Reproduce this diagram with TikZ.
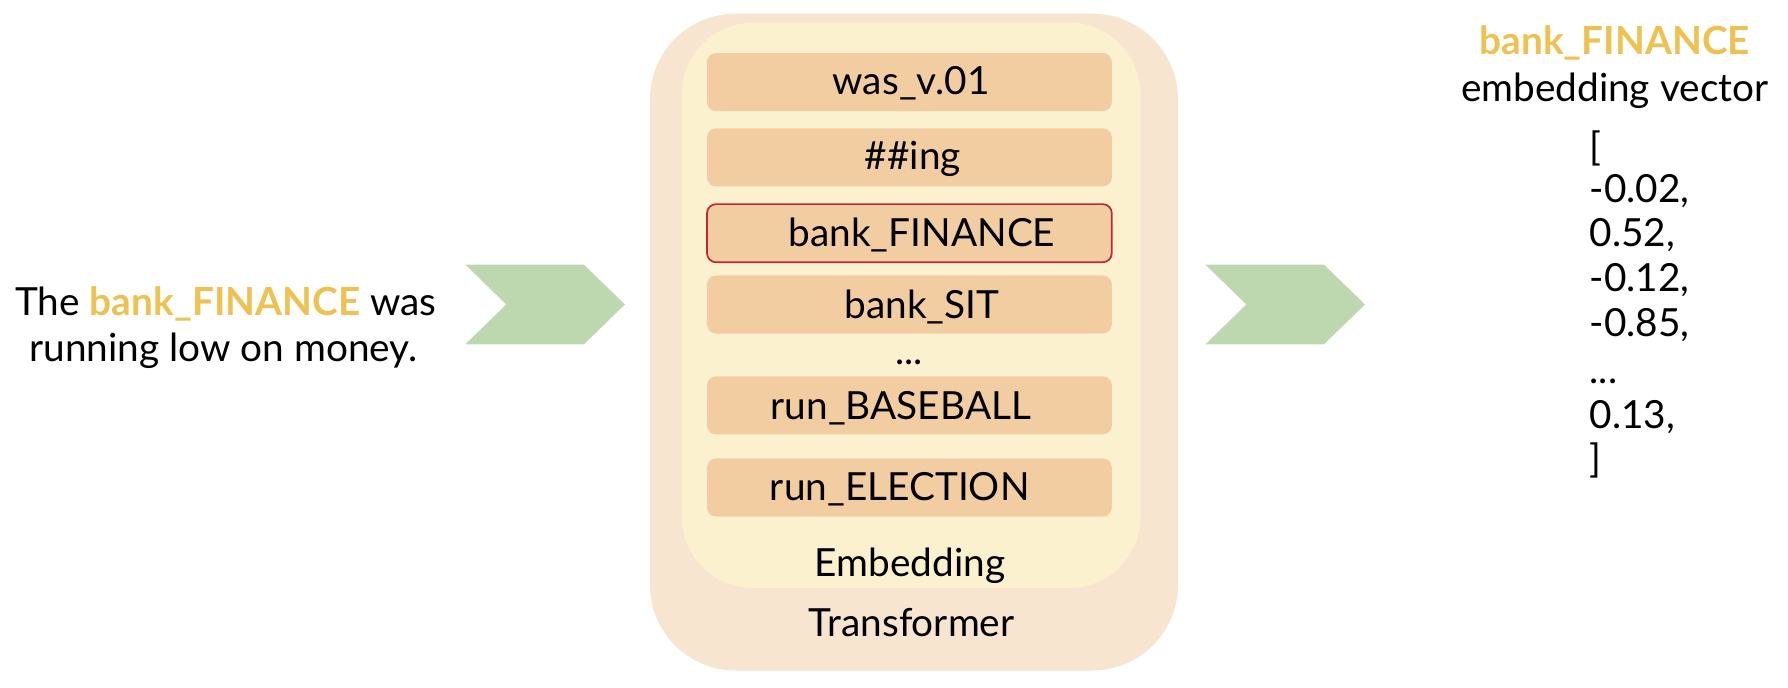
\documentclass[tikz,border=0pt]{standalone}
\usepackage{fontspec}
\setmainfont{Lato}
\usepackage{tikz}
\usetikzlibrary{positioning}

\definecolor{outerfill}{HTML}{F8E5CF}
\definecolor{innerfill}{HTML}{FCF1CF}
\definecolor{tokfill}{HTML}{F2CDA2}
\definecolor{tokred}{HTML}{C0282D}
\definecolor{arrowgreen}{HTML}{BDD7AE}
\definecolor{wordyellow}{HTML}{EDC253}

\tikzset{
  every node/.style={font=\fontsize{34}{41}\selectfont, inner sep=0pt},
  txt/.style={anchor=base},
  vec/.style={anchor=base west},
  tok/.style={fill=tokfill, rounded corners=8pt, minimum width=355pt, minimum height=51pt},
  hilite/.style={tok, draw=tokred, line width=1.5pt},
  chevron/.style={fill=arrowgreen}
}
\newcommand{\hiword}[1]{\textcolor{wordyellow}{\bfseries #1}}

\begin{document}
\begin{tikzpicture}[x=1pt,y=-1pt]

  \useasboundingbox (0,0) rectangle (1568,603);

  % Transformer and embedding blocks
  \fill[outerfill, rounded corners=75pt] (570,12) rectangle (1033,588);
  \fill[innerfill, rounded corners=62pt] (598,20) rectangle (1000,515.5);

  % Token rows (position, etc.)
  \node[tok] (t1) at (797.5,72) {};
  \node[tok] (t2) at (797.5,138) {};
  \node[hilite] (t3) at (797.5,204.5) {};
  \node[tok] (t4) at (797.5,267) {};
  \node[tok] (t5) at (797.5,355.5) {};
  \node[tok] (t6) at (797.5,427.5) {};

  \node[txt] (w1) at ([xshift=1.5pt,yshift=-11.3pt]t1.center) {was\_v.01};
  \node[txt] (w2) at ([xshift=3pt,yshift=-11pt]t2.center) {\#\#ing};
  \node[txt] (w3) at ([xshift=11pt,yshift=-11.3pt]t3.center) {bank\_FINANCE};
  \node[txt] (w4) at ([xshift=11pt,yshift=-12pt]t4.center) {bank\_SIT};
  \node[txt] (dots) at (797.5,319.5) {...};
  \node[txt] (w5) at ([xshift=-7.5pt,yshift=-12.5pt]t5.center) {run\_BASEBALL};
  \node[txt] (w6) at ([xshift=-8.5pt,yshift=-11.5pt]t6.center) {run\_ELECTION};

  \node[txt] (emb) at (798,505.8) {Embedding};
  \node[txt] (trf) at (799.5,558.5) {Transformer};

  % Input sentence
  \node[txt] (sent1) at (198,276.3) {The \hiword{bank\_FINANCE} was};
  \node[txt] (sent2) at (196,316.7) {running low on money.};

  % Arrows
  \fill[chevron] (408,232) -- (512,232) -- (548,267) -- (512,302) -- (408,302) -- (444,267) -- cycle;
  \fill[chevron] (1057,232) -- (1161,232) -- (1197,267) -- (1161,302) -- (1057,302) -- (1093,267) -- cycle;

  % Output vector
  \node[txt] (vname) at (1416,48.2) {\hiword{bank\_FINANCE}};
  \node[txt] (vlabel) at (1416,89.2) {embedding vector};
  \node[vec] (v1) at (1394,141) {[};
  \node[vec] (v2) at (1394,177.8) {-0.02,};
  \node[vec] (v3) at (1394,216.4) {0.52,};
  \node[vec] (v4) at (1394,255.9) {-0.12,};
  \node[vec] (v5) at (1394,294.7) {-0.85,};
  \node[vec] (v6) at (1394,336.3) {...};
  \node[vec] (v7) at (1394,375.7) {0.13,};
  \node[vec] (v8) at (1394,414) {]};

\end{tikzpicture}
\end{document}
